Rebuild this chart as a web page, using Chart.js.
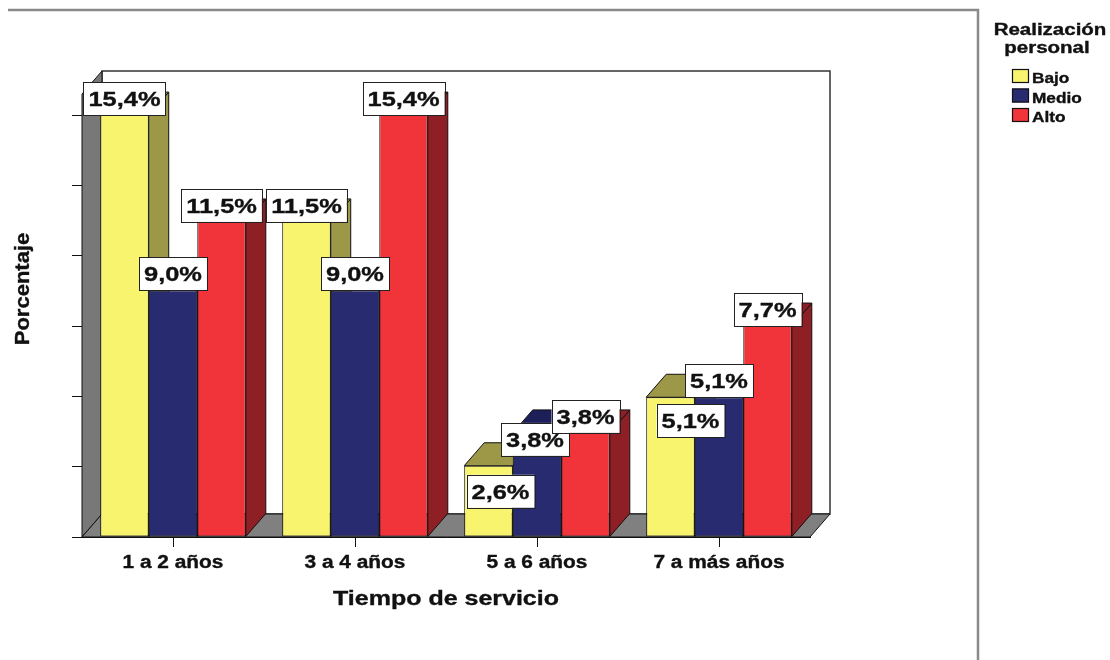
<!DOCTYPE html>
<html>
<head>
<meta charset="utf-8">
<script src="https://cdn.jsdelivr.net/npm/chart.js@4/dist/chart.umd.min.js"></script>
<style>
  html, body { margin: 0; padding: 0; background: #ffffff; }
  #wrap { width: 1110px; height: 660px; }
</style>
</head>
<body>
<div id="wrap"><canvas id="chart" width="1110" height="660"></canvas></div>
<script>
// Tiempo de servicio (categorías) y porcentajes por nivel de realización personal
const categories = ['1 a 2 años', '3 a 4 años', '5 a 6 años', '7 a más años'];
const seriesNames = ['Bajo', 'Medio', 'Alto'];
const bajo  = [15.4, 11.5, 2.6, 5.1];
const medio = [9.0, 9.0, 3.8, 5.1];
const alto  = [11.5, 15.4, 3.8, 7.7];
// Marcas del eje Y (cada 2 casos de 78)
const yTicks = [0, 2.56, 5.13, 7.69, 10.26, 12.82, 15.38];
const yMax = 16.17;

// Colores: cara frontal y caras laterales/superiores sombreadas
const frontColors = ['#f9f46e', '#282b70', '#f1333a'];
const shadeColors = ['#9c9848', '#1d2058', '#8e1f24'];

// Desplazamiento de profundidad del efecto 3D
const DEPTH_X = 20, DEPTH_Y = 23;

// Ajustes de posición de algunas etiquetas [dx, dy] para evitar solapes
const labelNudge = [
  [[0, 0], [0, 0], [12, 42], [20, 40]],
  [[0, 0], [0, 0], [-2, 23], [0, 0]],
  [[0, 0], [0, 0], [0, 0], [0, 0]]
];

const FONT = '"Liberation Sans", Arial, sans-serif';

function stretchText(ctx, text, x, y, sx, size, align) {
  ctx.save();
  ctx.font = 'bold ' + size + 'px ' + FONT;
  ctx.translate(x, y);
  ctx.scale(sx, 1);
  ctx.textAlign = align || 'center';
  ctx.textBaseline = 'alphabetic';
  ctx.fillStyle = '#111111';
  ctx.fillText(text, 0, 0);
  ctx.strokeStyle = '#111111';
  ctx.lineWidth = 0.35;
  ctx.strokeText(text, 0, 0);
  ctx.restore();
}

function poly(ctx, pts, fill, stroke, lw) {
  ctx.beginPath();
  ctx.moveTo(pts[0][0], pts[0][1]);
  for (let i = 1; i < pts.length; i++) ctx.lineTo(pts[i][0], pts[i][1]);
  ctx.closePath();
  if (fill) { ctx.fillStyle = fill; ctx.fill(); }
  if (stroke) { ctx.strokeStyle = stroke; ctx.lineWidth = lw || 1; ctx.stroke(); }
}

const box3d = {
  id: 'box3d',
  beforeDraw(chart) {
    const ctx = chart.ctx;
    ctx.save();
    ctx.fillStyle = '#ffffff';
    ctx.fillRect(0, 0, chart.width, chart.height);
    ctx.restore();
  },
  beforeDatasetsDraw(chart) {
    const ctx = chart.ctx;
    const a = chart.chartArea;
    const L = a.left, R = a.right, T = a.top, B = a.bottom;
    ctx.save();
    // pared del fondo
    poly(ctx, [[L + DEPTH_X, T - DEPTH_Y], [R + DEPTH_X, T - DEPTH_Y], [R + DEPTH_X, B - DEPTH_Y], [L + DEPTH_X, B - DEPTH_Y]], '#ffffff', '#333333', 1.5);
    // pared izquierda
    poly(ctx, [[L, B], [L, T], [L + DEPTH_X, T - DEPTH_Y], [L + DEPTH_X, B - DEPTH_Y]], '#787878', '#111111', 1);
    // suelo
    poly(ctx, [[L, B], [R, B], [R + DEPTH_X, B - DEPTH_Y], [L + DEPTH_X, B - DEPTH_Y]], '#808080', '#111111', 1);
    // caras laterales y superiores, de izquierda a derecha
    const n = chart.data.labels.length;
    for (let i = 0; i < n; i++) {
      chart.data.datasets.forEach((ds, d) => {
        const el = chart.getDatasetMeta(d).data[i];
        const l = el.x - el.width / 2, r = el.x + el.width / 2;
        const top = el.y, base = el.base;
        poly(ctx, [[r, top], [r + DEPTH_X, top - DEPTH_Y], [r + DEPTH_X, base - DEPTH_Y], [r, base]], shadeColors[d], '#111111', 1);
        poly(ctx, [[l, top], [r, top], [r + DEPTH_X, top - DEPTH_Y], [l + DEPTH_X, top - DEPTH_Y]], shadeColors[d], '#111111', 1);
      });
    }
    ctx.restore();
  },
  afterDatasetsDraw(chart) {
    const ctx = chart.ctx;
    ctx.save();
    // etiquetas de valor
    const sx = 1.21, size = 21, h = 33;
    chart.data.datasets.forEach((ds, d) => {
      chart.getDatasetMeta(d).data.forEach((el, i) => {
        const v = ds.data[i];
        const txt = v.toFixed(1).replace('.', ',') + '%';
        ctx.font = 'bold ' + size + 'px ' + FONT;
        const w = ctx.measureText(txt).width * sx + 10;
        const nud = labelNudge[d][i];
        const cx = el.x + nud[0];
        const bottom = el.y + nud[1];
        ctx.fillStyle = '#ffffff';
        ctx.fillRect(cx - w / 2, bottom - h, w, h);
        ctx.strokeStyle = '#222222';
        ctx.lineWidth = 1;
        ctx.strokeRect(Math.round(cx - w / 2) + 0.5, Math.round(bottom - h) + 0.5, Math.round(w), h);
        stretchText(ctx, txt, cx, bottom - h / 2 + 7.5, sx, size, 'center');
      });
    });

    // etiquetas de categorías
    const xs = chart.scales.x;
    chart.data.labels.forEach((lab, i) => {
      stretchText(ctx, lab, xs.getPixelForValue(i), 568, 1.16, 18, 'center');
    });
    // título del eje X
    const a = chart.chartArea;
    stretchText(ctx, 'Tiempo de servicio', (a.left + a.right) / 2, 605, 1.19, 21, 'center');
    // título del eje Y
    ctx.save();
    ctx.translate(29, 289);
    ctx.rotate(-Math.PI / 2);
    stretchText(ctx, 'Porcentaje', 0, 0, 1.1, 20, 'center');
    ctx.restore();

    // leyenda
    stretchText(ctx, 'Realización', 1050, 35, 1.28, 16, 'center');
    stretchText(ctx, 'personal', 1047, 53, 1.28, 16, 'center');
    seriesNames.forEach((name, d) => {
      const y = 69 + d * 19.5;
      ctx.fillStyle = frontColors[d];
      ctx.fillRect(1012, y, 17, 14);
      ctx.strokeStyle = '#111111';
      ctx.lineWidth = 1.2;
      ctx.strokeRect(1012.5, y + 0.5, 16, 13);
      stretchText(ctx, name, 1032, y + 14, 1.15, 15, 'left');
    });

    // marco exterior
    ctx.strokeStyle = '#8a8a8a';
    ctx.lineWidth = 2.5;
    ctx.beginPath();
    ctx.moveTo(8, 10);
    ctx.lineTo(978, 10);
    ctx.lineTo(978, 660);
    ctx.stroke();
    ctx.restore();
  }
};

const datasets = [bajo, medio, alto].map((vals, d) => ({
  label: seriesNames[d],
  data: vals,
  backgroundColor: frontColors[d],
  borderColor: '#111111',
  borderWidth: 1,
  borderSkipped: false,
  categoryPercentage: 0.8,
  barPercentage: 1.0
}));

new Chart(document.getElementById('chart'), {
  type: 'bar',
  data: { labels: categories, datasets: datasets },
  options: {
    responsive: false,
    animation: false,
    devicePixelRatio: 1,
    events: [],
    layout: { padding: { left: 0, right: 300, top: 94, bottom: 0 } },
    plugins: { legend: { display: false }, tooltip: { enabled: false }, title: { display: false } },
    scales: {
      x: {
        grid: { display: true, drawOnChartArea: false, offset: false, drawTicks: true, tickLength: 10, color: '#111111', lineWidth: 1 },
        border: { display: true, color: '#111111', width: 1 },
        ticks: { display: false },
        afterFit(scale) { scale.height = 123; }
      },
      y: {
        min: 0,
        max: yMax,
        grid: { display: true, drawOnChartArea: false, drawTicks: true, tickLength: 10, color: '#111111', lineWidth: 1 },
        border: { display: true, color: '#111111', width: 1 },
        ticks: { display: false },
        afterBuildTicks(scale) { scale.ticks = yTicks.map(v => ({ value: v })); },
        afterFit(scale) { scale.width = 82; }
      }
    }
  },
  plugins: [box3d]
});
</script>
</body>
</html>
